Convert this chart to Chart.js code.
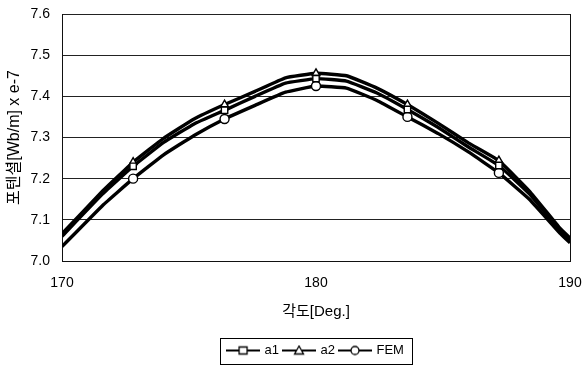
<!DOCTYPE html>
<html>
<head>
<meta charset="utf-8">
<script src="https://cdn.jsdelivr.net/npm/chart.js@4"></script>
<style>
  body { margin: 0; background: #fff; }
</style>
</head>
<body>
<canvas id="myChart" width="584" height="367"></canvas>
<script>
var angles = [170, 171.6, 172.8, 174, 175.2, 176.4, 177.6, 178.8, 180, 181.2, 182.4, 183.6, 184.8, 186, 187.2, 188.4, 189.6, 190];
var a1 = [7.060, 7.163, 7.230, 7.288, 7.333, 7.366, 7.400, 7.432, 7.443, 7.437, 7.408, 7.368, 7.325, 7.277, 7.232, 7.163, 7.075, 7.050];
var a2 = [7.066, 7.170, 7.240, 7.298, 7.345, 7.380, 7.412, 7.445, 7.456, 7.450, 7.420, 7.380, 7.335, 7.287, 7.244, 7.170, 7.080, 7.056];
var fem = [7.035, 7.135, 7.200, 7.258, 7.305, 7.345, 7.378, 7.410, 7.425, 7.420, 7.390, 7.350, 7.310, 7.265, 7.214, 7.150, 7.068, 7.044];
var markerAngles = [172.8, 176.4, 180, 183.6, 187.2];
var xTicks = [170, 180, 190];

var FONT = '"Liberation Sans", Arial, "Noto Sans CJK KR", sans-serif';

function points(values) {
    return angles.map(function (a, i) { return { x: a, y: values[i] }; });
}
var radii = angles.map(function (a) { return markerAngles.indexOf(a) >= 0 ? 4.5 : 0; });

// small line + marker sample for the legend
function legendIcon(style) {
    var c = document.createElement('canvas');
    c.width = 34; c.height = 12;
    var g = c.getContext('2d');
    g.strokeStyle = '#000';
    g.lineWidth = 2;
    g.beginPath(); g.moveTo(0, 6); g.lineTo(34, 6); g.stroke();
    g.fillStyle = '#fff';
    g.lineWidth = 1.3;
    g.beginPath();
    if (style === 'rect') {
        g.rect(13, 2.5, 8, 7);
    } else if (style === 'triangle') {
        g.moveTo(17, 1.5); g.lineTo(21.5, 9.5); g.lineTo(12.5, 9.5); g.closePath();
    } else {
        g.arc(17, 6, 4, 0, Math.PI * 2);
    }
    g.fill(); g.stroke();
    return c;
}

var legendBox = {
    id: 'legendBox',
    afterDraw: function (chart) {
        var boxes = chart.legend.legendHitBoxes;
        if (!boxes || !boxes.length) return;
        var left = boxes[0].left - 8;
        var last = boxes[boxes.length - 1];
        var right = last.left + last.width + 8;
        var mid = boxes[0].top + boxes[0].height / 2;
        var ctx = chart.ctx;
        ctx.save();
        ctx.strokeStyle = '#000';
        ctx.lineWidth = 1;
        ctx.strokeRect(Math.round(left) + 0.5, Math.round(mid - 13) + 0.5, Math.round(right - left), 26);
        ctx.restore();
    }
};

function dataset(label, values, style) {
    return {
        label: label,
        data: points(values),
        borderColor: '#000',
        borderWidth: 3.4,
        pointStyle: style,
        pointRadius: radii,
        pointBackgroundColor: '#fff',
        pointBorderColor: '#000',
        pointBorderWidth: 1.4,
        fill: false,
        tension: 0.1
    };
}

var ctx = document.getElementById('myChart').getContext('2d');
var myChart = new Chart(ctx, {
    type: 'line',
    data: {
        datasets: [
            dataset('a1', a1, 'rect'),
            dataset('a2', a2, 'triangle'),
            dataset('FEM', fem, 'circle')
        ]
    },
    options: {
        responsive: false,
        animation: false,
        layout: { padding: { top: 14, right: 14, left: 0, bottom: 0 } },
        plugins: {
            tooltip: { enabled: false },
            legend: {
                position: 'bottom',
                fullSize: false,
                labels: {
                    usePointStyle: true,
                    pointStyleWidth: 30,
                    padding: 5,
                    color: '#000',
                    font: { family: FONT, size: 13 },
                    generateLabels: function (chart) {
                        return chart.data.datasets.map(function (ds, i) {
                            return {
                                text: ds.label,
                                pointStyle: legendIcon(ds.pointStyle),
                                datasetIndex: i,
                                fontColor: '#000',
                                lineWidth: 0,
                                strokeStyle: 'transparent',
                                fillStyle: 'transparent'
                            };
                        });
                    }
                }
            }
        },
        scales: {
            x: {
                type: 'linear',
                min: 170,
                max: 190,
                afterBuildTicks: function (axis) {
                    axis.ticks = xTicks.map(function (v) { return { value: v }; });
                },
                afterFit: function (axis) {
                    axis.height = 78;
                    axis.paddingLeft = 0;
                    axis.paddingRight = 0;
                },
                grid: {
                    drawTicks: false,
                    lineWidth: 1,
                    color: function (c) { return c.tick && c.tick.value === 180 ? 'rgba(0,0,0,0)' : '#111'; }
                },
                border: { display: true, color: '#111' },
                ticks: { padding: 14, color: '#000', font: { family: FONT, size: 14 } },
                title: {
                    display: true,
                    text: '각도[Deg.]',
                    color: '#000',
                    font: { family: FONT, size: 15 },
                    padding: { top: 0, bottom: 18 }
                }
            },
            y: {
                min: 7.0,
                max: 7.6,
                afterFit: function (axis) {
                    axis.width = 62;
                    axis.paddingTop = 0;
                    axis.paddingBottom = 0;
                },
                grid: { drawTicks: false, color: '#222', lineWidth: 1 },
                border: { display: true, color: '#111' },
                ticks: {
                    stepSize: 0.1,
                    padding: 12,
                    color: '#000',
                    font: { family: FONT, size: 14 },
                    callback: function (v) { return Number(v).toFixed(1); }
                },
                title: {
                    display: true,
                    text: '포텐셜[Wb/m] x e-7',
                    color: '#000',
                    font: { family: FONT, size: 16 },
                    padding: { top: 5, bottom: 0 }
                }
            }
        }
    },
    plugins: [legendBox]
});
</script>
</body>
</html>
